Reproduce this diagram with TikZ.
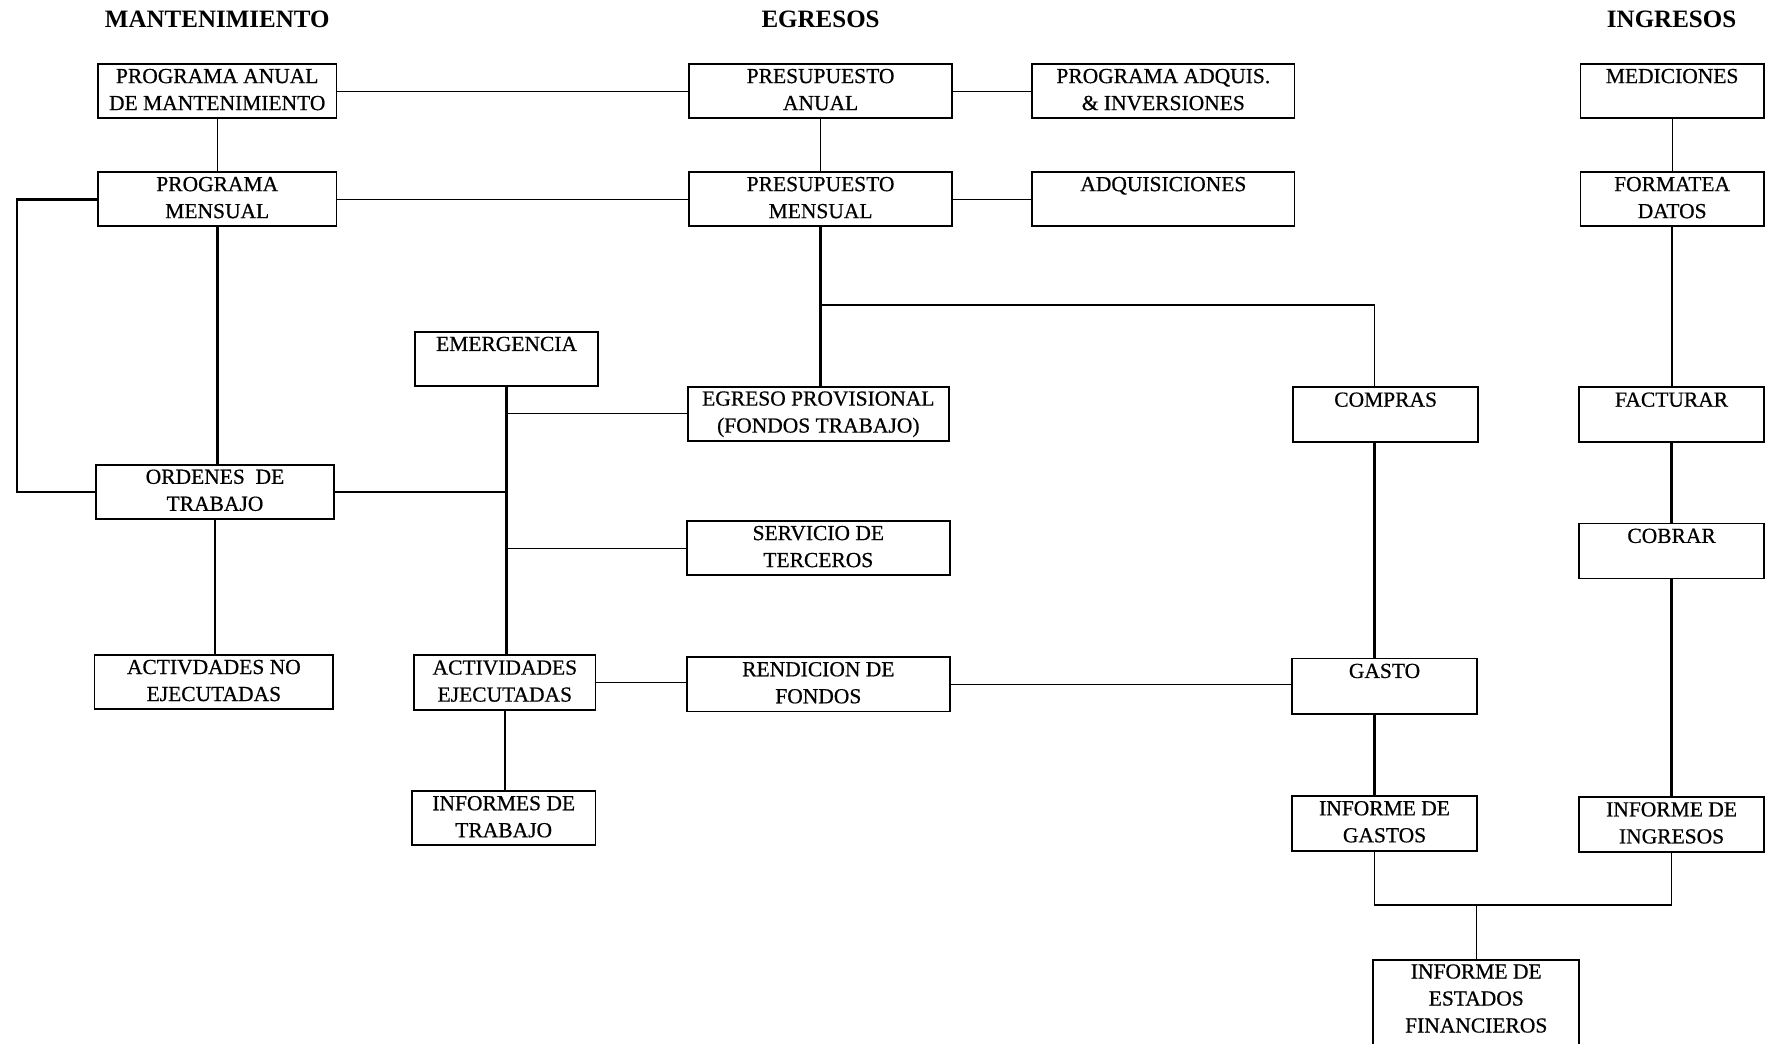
\documentclass[tikz,border=0pt]{standalone}
\usepackage{fontspec}
\setmainfont{Liberation Serif}
\newfontfamily\boxfont[FakeBold=0.6]{Liberation Serif}
\newdimen\pxu \pxu=1.1257pt
\newcommand\tl[1]{\begin{tabular}{@{}c@{}}#1\end{tabular}}
\newcommand\bx[6]{\node[box, minimum width={(#4-#2)*\pxu}, minimum height={(#5-#3)*\pxu}] (#1) at ({(#2+#4)/2},{(#3+#5)/2}) {\tl{#6}};}
\begin{document}
\begin{tikzpicture}[x=1.1257pt,y=-1.1257pt,
  txt/.style={align=center, inner sep=0pt, font=\fontsize{21.5}{27}\selectfont\boxfont},
  box/.style={draw, line width=1.8pt, outer sep=0pt, txt},
  ttl/.style={font=\fontsize{25}{30}\selectfont\bfseries},
  thinln/.style={line width=1.3pt},
  thickln/.style={line width=2.6pt}]
\useasboundingbox (0,0) rectangle (1568,927);
% titles
\node[ttl] (t1) at (193,17) {MANTENIMIENTO};
\node[ttl] (t2) at (729,17) {EGRESOS};
\node[ttl] (t3) at (1485,17) {INGRESOS};
% boxes
\bx{pam}{87}{57}{299}{105}{PROGRAMA ANUAL\\DE MANTENIMIENTO}
\bx{pm}{87}{153}{299}{201}{PROGRAMA\\MENSUAL}
\bx{pa}{612}{57}{846}{105}{PRESUPUESTO\\ANUAL}
\bx{pai}{917}{57}{1150}{105}{PROGRAMA ADQUIS.\\\& INVERSIONES}
\bx{pme}{612}{153}{846}{201}{PRESUPUESTO\\MENSUAL}
\bx{adq}{917}{153}{1150}{201}{ADQUISICIONES\\\strut}
\bx{med}{1404}{57}{1567}{105}{MEDICIONES\\\strut}
\bx{fd}{1404}{153}{1567}{201}{FORMATEA\\DATOS}
\bx{emer}{369}{295}{531}{343}{EMERGENCIA\\\strut}
\bx{ep}{611}{344}{843}{391}{EGRESO PROVISIONAL\\(FONDOS TRABAJO)}
\bx{compras}{1149}{344}{1313}{393}{COMPRAS\\\strut}
\bx{fact}{1403}{344}{1567}{393}{FACTURAR\\\strut}
\bx{ot}{85}{413}{297}{461}{ORDENES~ DE\\TRABAJO}
\bx{st}{610}{463}{844}{511}{SERVICIO DE\\TERCEROS}
\bx{cob}{1403}{465}{1567}{514}{COBRAR\\\strut}
\bx{an}{84}{582}{296}{630}{ACTIVDADES NO\\EJECUTADAS}
\bx{ae}{368}{582}{529}{631}{ACTIVIDADES\\EJECUTADAS}
\bx{rf}{610}{584}{844}{632}{RENDICION DE\\FONDOS}
\bx{gasto}{1148}{585}{1312}{634}{GASTO\\\strut}
\bx{it}{366}{703}{529}{751}{INFORMES DE\\TRABAJO}
\bx{ig}{1148}{707}{1312}{756}{INFORME DE\\GASTOS}
\bx{ii}{1403}{708}{1567}{757}{INFORME DE\\INGRESOS}
\bx{ief}{1220}{853}{1403}{940}{}
\node[txt] (ieft) at (1311.5,888.5) {\tl{INFORME DE\\ESTADOS\\FINANCIEROS}};
% helper coordinates
\coordinate (lp) at (15,177);
\coordinate (j1) at (729,271);
\coordinate (cx) at (1221,0);
\coordinate (b1) at (1221,804);
% connectors
\draw[thinln] (pam.east) -- (pa.west);
\draw[thinln] (pa.east) -- (pai.west);
\draw[thinln] (pam.south) -- (pm.north);
\draw[thinln] (pa.south) -- (pme.north);
\draw[thinln] (pm.east) -- (pme.west);
\draw[thinln] (pme.east) -- (adq.west);
\draw[thinln] (med.south) -- (fd.north);
\draw[thickln] (pm.west) -- (lp) |- (ot.west);
\draw[thickln] (pm.south) -- (pm.south |- ot.north);
\draw[thickln] (ot.south) -- (ot.south |- an.north);
\draw[thickln] (emer.south) -- (emer.south |- ae.north);
\draw[thinln] (ot.east) -- (ot.east -| emer.south);
\draw[thinln] (ep.west -| emer.south) -- (ep.west);
\draw[thinln] (st.west -| emer.south) -- (st.west);
\draw[thinln] (ae.east) -- (ae.east -| rf.west);
\draw[thinln] (ae.south) -- (ae.south |- it.north);
\draw[thickln] (pme.south) -- (pme.south |- ep.north);
\draw[thinln] (j1) -| (compras.north -| cx);
\draw[thickln] (compras.south -| cx) -- (gasto.north -| cx);
\draw[thinln] (rf.east) -- (rf.east -| gasto.west);
\draw[thickln] (gasto.south -| cx) -- (ig.north -| cx);
\draw[thickln] (fd.south) -- (fd.south |- fact.north);
\draw[thickln] (fact.south) -- (fact.south |- cob.north);
\draw[thickln] (cob.south) -- (cob.south |- ii.north);
\draw[thinln] (ig.south -| cx) -- (b1) -- (b1 -| ii.south) -- (ii.south);
\draw[thinln] (ief.north |- b1) -- (ief.north);
\end{tikzpicture}
\end{document}
